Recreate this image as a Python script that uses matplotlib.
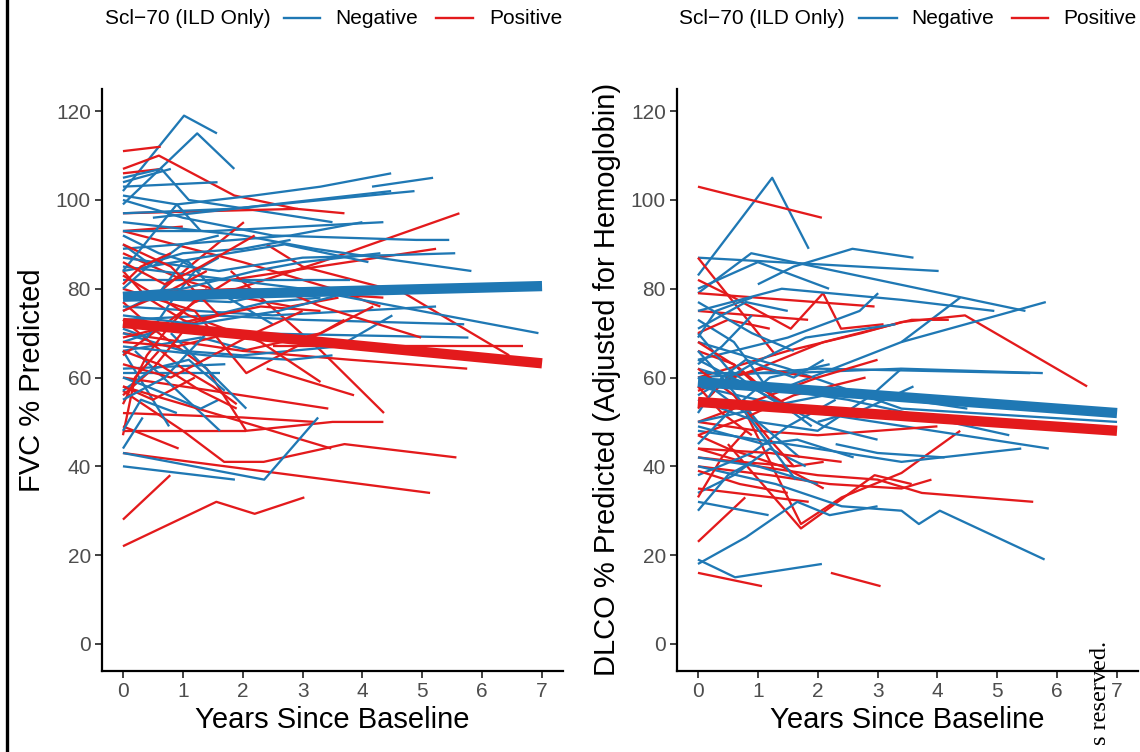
import matplotlib
matplotlib.use("Agg")
import matplotlib.pyplot as plt
from matplotlib.lines import Line2D

plt.rcParams['font.family'] = ['Liberation Sans', 'DejaVu Sans']

BLUE = "#1F78B4"
RED = "#E31A1C"

# ---------------- data: FVC % predicted trajectories (years, value) ----------------
fvc_negative = [
    [(0, 102), (1.02, 119), (1.57, 115)],
    [(0, 99), (1.24, 115), (1.86, 107)],
    [(0, 103), (1.58, 104)],
    [(0, 105), (0.64, 107), (1.1, 100), (3.5, 95)],
    [(0, 101), (0.9, 99), (2.19, 101), (3.3, 103), (4.48, 106)],
    [(4.16, 103), (5.18, 105)],
    [(0, 97), (1.8, 98), (4.87, 102)],
    [(0.5, 96), (2.5, 99), (4.48, 102)],
    [(0, 93), (1.5, 93), (4.35, 95)],
    [(0, 89), (2.8, 92), (4.0, 95)],
    [(0, 100), (1.0, 96), (2.5, 92), (4.9, 91), (5.45, 91)],
    [(0, 95), (2.0, 92), (3.2, 89), (5.82, 84)],
    [(0, 87), (1.6, 84), (3.0, 87), (5.55, 88)],
    [(0, 92), (0.6, 88), (1.1, 86), (1.5, 80), (2.5, 72)],
    [(0, 84), (1.3, 87), (2.7, 90), (4.1, 86)],
    [(0, 82), (1.2, 82), (3.8, 82)],
    [(0, 78), (1.8, 77), (2.8, 80)],
    [(0, 85), (3.0, 80), (6.94, 70)],
    [(0, 76), (2.5, 74), (5.23, 76)],
    [(0, 73), (1.5, 74), (3.0, 73), (5.7, 72)],
    [(0, 72), (2.0, 70), (5.77, 69)],
    [(0, 70), (1.0, 66), (2.0, 65), (3.6, 67), (4.5, 74)],
    [(0, 68), (0.9, 72), (2.4, 77), (3.3, 78)],
    [(0, 66), (1.3, 69), (2.13, 66)],
    [(0, 66), (0.77, 49)],
    [(0.2, 66), (1.62, 48)],
    [(0.8, 70), (2.06, 53)],
    [(0, 61), (1.62, 61)],
    [(0, 62), (1.71, 63)],
    [(0, 44), (0.33, 51)],
    [(0, 40), (1.87, 37)],
    [(0, 43), (2.36, 37), (3.26, 51)],
    [(0, 57), (0.5, 62), (1.1, 64), (1.7, 57)],
    [(0, 90), (0.5, 85), (1.0, 90), (1.6, 92)],
    [(0, 80), (0.5, 86), (1.0, 88), (2.0, 89), (2.8, 91)],
    [(0, 75), (0.6, 79), (1.0, 86), (1.3, 84)],
    [(0, 71), (0.4, 69), (0.8, 77), (1.2, 84), (1.6, 87)],
    [(0, 60), (0.4, 58), (1.3, 53), (1.6, 55)],
    [(0, 55), (0.7, 60), (1.4, 70)],
    [(0, 67), (1.4, 65), (2.8, 64), (3.5, 65)],
    [(0, 104), (0.8, 107)],
    [(0, 84), (0.9, 99), (1.3, 93)],
    [(0, 48), (0.3, 55), (0.9, 52)],
    [(0, 79), (1.0, 80), (2.2, 84), (3.0, 86), (4.3, 88)],
    [(0, 74), (1.2, 72), (2.6, 75), (4.0, 80), (5.0, 80)],
]

fvc_positive = [
    [(0, 111), (0.63, 112)],
    [(0, 107), (0.6, 110), (1.86, 101), (2.9, 98), (3.7, 97)],
    [(0, 106), (0.65, 107)],
    [(0, 97), (2.92, 98)],
    [(0, 93), (2.0, 86), (3.5, 80), (4.3, 76)],
    [(0, 93), (1.0, 94)],
    [(1.2, 77), (3.3, 86), (5.62, 97)],
    [(1.8, 82), (5.23, 89)],
    [(0.5, 78), (1.2, 86), (2.02, 95)],
    [(0, 88), (1.0, 82), (2.0, 78), (2.8, 76), (3.6, 78)],
    [(0, 84), (0.4, 78), (1.0, 73), (1.5, 70)],
    [(2.4, 90), (3.0, 85), (4.7, 79), (6.45, 65)],
    [(0, 79), (2.0, 80), (4.35, 78)],
    [(2.5, 67), (6.69, 67)],
    [(0, 70), (2.0, 66), (3.8, 64), (5.75, 62)],
    [(1.8, 84), (3.31, 66), (4.36, 52)],
    [(0, 77), (0.5, 71), (1.4, 62), (2.06, 48), (3.5, 50), (4.35, 50)],
    [(0, 52), (2.0, 51), (3.2, 50)],
    [(0, 48), (2.06, 48)],
    [(0, 49), (0.93, 44)],
    [(0, 57), (1.0, 48), (1.69, 41), (2.35, 41), (3.7, 45), (5.57, 42)],
    [(0, 43), (5.13, 34)],
    [(0, 28), (0.79, 38)],
    [(0, 22), (1.56, 32), (2.2, 29.3), (3.03, 33)],
    [(0, 60), (1.5, 57), (3.43, 53)],
    [(0, 58), (2.0, 50), (3.48, 44)],
    [(2.4, 62), (3.86, 56)],
    [(0, 80), (1.2, 75), (2.06, 61), (2.9, 67), (3.7, 73)],
    [(0, 73), (1.0, 62), (1.5, 58), (1.9, 54)],
    [(0, 65), (0.5, 70), (1.2, 77), (1.8, 82)],
    [(0, 63), (0.8, 60), (1.5, 65), (2.2, 70), (3.0, 75)],
    [(0, 56), (0.5, 62), (1.1, 72), (1.6, 74)],
    [(0, 54), (0.4, 65), (0.8, 72), (1.4, 80)],
    [(0, 68), (0.9, 67), (1.8, 70)],
    [(0, 81), (0.3, 85), (0.8, 88)],
    [(0, 90), (0.8, 85), (1.6, 74)],
    [(0, 58), (0.5, 55), (1.2, 60)],
    [(0, 47), (0.2, 60), (0.6, 66)],
    [(0, 69), (1.2, 73), (2.3, 76), (3.3, 75)],
    [(0, 75), (0.7, 79), (1.4, 84)],
    [(0, 66), (0.6, 63), (1.3, 57), (1.9, 53)],
    [(0, 83), (1.1, 74), (2.3, 68), (3.3, 59)],
    [(2.0, 66), (3.31, 70), (4.18, 76)],
    [(2.6, 80), (3.31, 76), (4.98, 69)],
    [(0, 86), (0.7, 81), (1.3, 85), (2.2, 92)],
]

# ---------------- data: DLCO % predicted (Hb-adjusted) trajectories ----------------
dlco_negative = [
    [(0, 83), (1.24, 105), (1.85, 89)],
    [(0, 87), (4.02, 84)],
    [(0, 79), (0.89, 88), (5.47, 75)],
    [(1.0, 81), (1.6, 85), (2.58, 89), (3.6, 87)],
    [(0, 80), (1.0, 86), (2.19, 80)],
    [(0, 75), (1.4, 80), (3.4, 77.5), (4.95, 75)],
    [(1.5, 58), (3.4, 68), (4.38, 78)],
    [(0, 64), (1.5, 69), (2.7, 75), (3.01, 79)],
    [(0, 61), (1.5, 61), (3.4, 62), (5.76, 61)],
    [(0, 60), (2.0, 62), (5.55, 61)],
    [(0, 68), (1.5, 62), (3.4, 53), (7.0, 50)],
    [(0, 62), (1.0, 58), (2.5, 55), (5.2, 47)],
    [(0, 58), (2.0, 52), (5.86, 44)],
    [(0, 48), (1.5, 45), (3.4, 41), (5.4, 44)],
    [(0, 40), (1.3, 36), (2.4, 31), (3.4, 30), (3.69, 27), (4.04, 30), (5.79, 19)],
    [(2.3, 45), (3.0, 43), (4.12, 42)],
    [(0, 19), (0.62, 15), (2.07, 18)],
    [(0, 18), (0.8, 24), (1.66, 32), (2.2, 29), (3.0, 31)],
    [(0, 32), (1.18, 29)],
    [(0, 34), (0.6, 38), (1.2, 44), (1.8, 40)],
    [(0, 70), (0.5, 62), (1.0, 57), (1.6, 52)],
    [(0, 73), (0.6, 68), (1.3, 55), (1.9, 49)],
    [(0, 66), (0.4, 60), (1.0, 50), (1.7, 42)],
    [(0, 56), (0.9, 63), (1.8, 69), (3.3, 72)],
    [(0, 69), (0.3, 75), (0.9, 78)],
    [(0, 77), (0.9, 70), (1.6, 66)],
    [(0, 45), (0.5, 52), (1.2, 60), (2.2, 63)],
    [(0, 38), (0.9, 43), (1.5, 49), (2.3, 55)],
    [(0, 42), (1.0, 40), (2.0, 36)],
    [(0, 52), (0.4, 60), (0.8, 64), (1.6, 60), (2.1, 64)],
    [(0, 64), (1.0, 57), (2.1, 49), (3.0, 46)],
    [(0, 49), (1.1, 45), (1.66, 46), (2.6, 42)],
    [(0, 60), (0.8, 52), (1.63, 37)],
    [(0, 30), (0.5, 38), (0.9, 41)],
    [(0, 71), (0.8, 77), (1.5, 75)],
    [(0, 55), (1.0, 50), (2.0, 48), (2.9, 56), (3.4, 62)],
    [(0, 63), (0.4, 67), (0.9, 74)],
    [(2.0, 50), (2.8, 53), (3.6, 58)],
    [(3.4, 68), (5.81, 77)],
    [(0, 50), (1.0, 53), (2.5, 57), (4.5, 53)],
]

dlco_positive = [
    [(0, 103), (2.07, 96)],
    [(0, 87), (0.71, 75), (1.3, 65)],
    [(0, 79), (2.95, 76)],
    [(0, 75), (1.84, 73)],
    [(0, 82), (0.6, 78), (1.55, 71), (2.09, 79), (2.39, 71), (3.1, 72)],
    [(0, 57), (1.0, 62), (2.1, 68), (3.57, 73), (4.19, 73)],
    [(0, 60), (1.5, 66), (2.73, 70), (3.4, 72.5), (4.46, 74), (6.5, 58)],
    [(0, 16), (1.07, 13)],
    [(2.22, 16), (3.05, 13)],
    [(0, 23), (0.79, 33)],
    [(0.5, 45), (1.72, 26), (2.95, 38), (3.57, 36)],
    [(0.8, 52), (1.72, 27), (2.4, 33), (3.4, 38.5), (4.38, 48)],
    [(0, 35), (1.85, 32)],
    [(0, 40), (1.2, 38), (2.2, 36), (3.4, 35), (3.9, 37)],
    [(0, 44), (1.0, 40), (2.0, 38), (3.0, 37), (3.74, 34), (5.6, 32)],
    [(0, 50), (1.0, 48), (2.0, 47), (3.0, 48), (4.0, 49)],
    [(0, 47), (0.5, 44), (1.4, 40), (2.1, 35)],
    [(0, 42), (0.7, 41), (1.6, 40), (2.1, 41)],
    [(0, 53), (0.5, 60), (1.1, 62), (1.9, 60)],
    [(0, 66), (0.6, 63), (1.0, 58), (1.7, 52)],
    [(0, 62), (0.6, 56), (1.2, 46), (1.6, 40)],
    [(0, 70), (0.5, 73), (1.2, 71)],
    [(0, 68), (0.7, 62), (1.4, 54)],
    [(0, 47), (0.8, 51), (1.6, 56), (2.8, 60)],
    [(0, 58), (0.4, 52), (0.9, 47)],
    [(0, 33), (0.4, 42), (0.8, 48)],
    [(0, 50), (1.0, 55), (2.0, 60), (3.0, 64)],
    [(0, 55), (0.9, 54), (2.1, 52), (3.2, 51)],
    [(0, 39), (0.7, 36), (1.5, 34)],
    [(0, 44), (1.2, 43), (2.4, 41)],
]

# fitted population trends (value at year 0 and year 7)
fit_years = [0, 7]
fvc_fit_negative = [78.2, 80.6]
fvc_fit_positive = [72.3, 63.2]
dlco_fit_negative = [59.0, 52.0]
dlco_fit_positive = [54.5, 48.0]

x_ticks = [0, 1, 2, 3, 4, 5, 6, 7]
y_ticks = [0, 20, 40, 60, 80, 100, 120]
legend_title = "Scl\u221270 (ILD Only)"
legend_labels = ["Negative", "Positive"]
x_label = "Years Since Baseline"
y_labels = ["FVC % Predicted", "DLCO % Predicted (Adjusted for Hemoglobin)"]

# ---------------- figure ----------------
W, H = 1140, 752
fig = plt.figure(figsize=(W / 100, H / 100), dpi=100)
fig.patch.set_facecolor("white")

panels = [
    (fig.add_axes([102 / W, 1 - 670.5 / H, 461 / W, 581.5 / H]),
     fvc_negative, fvc_positive, fvc_fit_negative, fvc_fit_positive, y_labels[0]),
    (fig.add_axes([677 / W, 1 - 670.5 / H, 461 / W, 581.5 / H]),
     dlco_negative, dlco_positive, dlco_fit_negative, dlco_fit_positive, y_labels[1]),
]

for ax, neg, pos, fneg, fpos, ylab in panels:
    n = max(len(neg), len(pos))
    for i in range(n):
        for group, col in ((neg, BLUE), (pos, RED)):
            if i < len(group):
                xs = [p[0] for p in group[i]]
                ys = [p[1] for p in group[i]]
                ax.plot(xs, ys, color=col, lw=1.65, solid_capstyle="butt",
                        solid_joinstyle="round", zorder=2)
    ax.plot(fit_years, fneg, color=BLUE, lw=7.4, solid_capstyle="butt", zorder=4)
    ax.plot(fit_years, fpos, color=RED, lw=7.4, solid_capstyle="butt", zorder=4)

    ax.set_xlim(-0.35, 7.35)
    ax.set_ylim(-6, 125)
    ax.set_xticks(x_ticks)
    ax.set_yticks(y_ticks)
    for s in ("top", "right"):
        ax.spines[s].set_visible(False)
    for s in ("left", "bottom"):
        ax.spines[s].set_linewidth(1.6)
        ax.spines[s].set_color("black")
    ax.tick_params(axis="both", length=5, width=1.3, color="#333333",
                   labelcolor="#4D4D4D", labelsize=15, pad=3)
    ax.set_xlabel(x_label, fontsize=21, color="black", labelpad=4)
    ax.set_ylabel(ylab, fontsize=21, color="black", labelpad=7)
    ax.set_facecolor("white")

# ---------------- legends (top) ----------------
def draw_legend(title_x, neg_key, neg_txt_x, pos_key, pos_txt_x):
    yc = 1 - 18 / H
    fig.text(title_x / W, yc, legend_title, fontsize=15, ha="left", va="center")
    fig.add_artist(Line2D([neg_key[0] / W, neg_key[1] / W], [yc, yc], color=BLUE, lw=1.7))
    fig.text(neg_txt_x / W, yc, legend_labels[0], fontsize=15, ha="left", va="center")
    fig.add_artist(Line2D([pos_key[0] / W, pos_key[1] / W], [yc, yc], color=RED, lw=1.7))
    fig.text(pos_txt_x / W, yc, legend_labels[1], fontsize=15, ha="left", va="center")

draw_legend(105, (284, 320), 335, (436, 473), 489)
draw_legend(679, (859, 897), 911, (1012, 1048), 1063)

# left border rule and cropped notice at bottom right
fig.add_artist(Line2D([7 / W, 7 / W], [0, 1], color="black", lw=2.4))
fig.text(1101 / W, 1 - 641 / H, "s reserved.", rotation=90, ha="center", va="top",
         fontsize=17.5, family=["Liberation Serif", "DejaVu Serif"], color="black")

fig.savefig("out.png", dpi=100, facecolor="white")
